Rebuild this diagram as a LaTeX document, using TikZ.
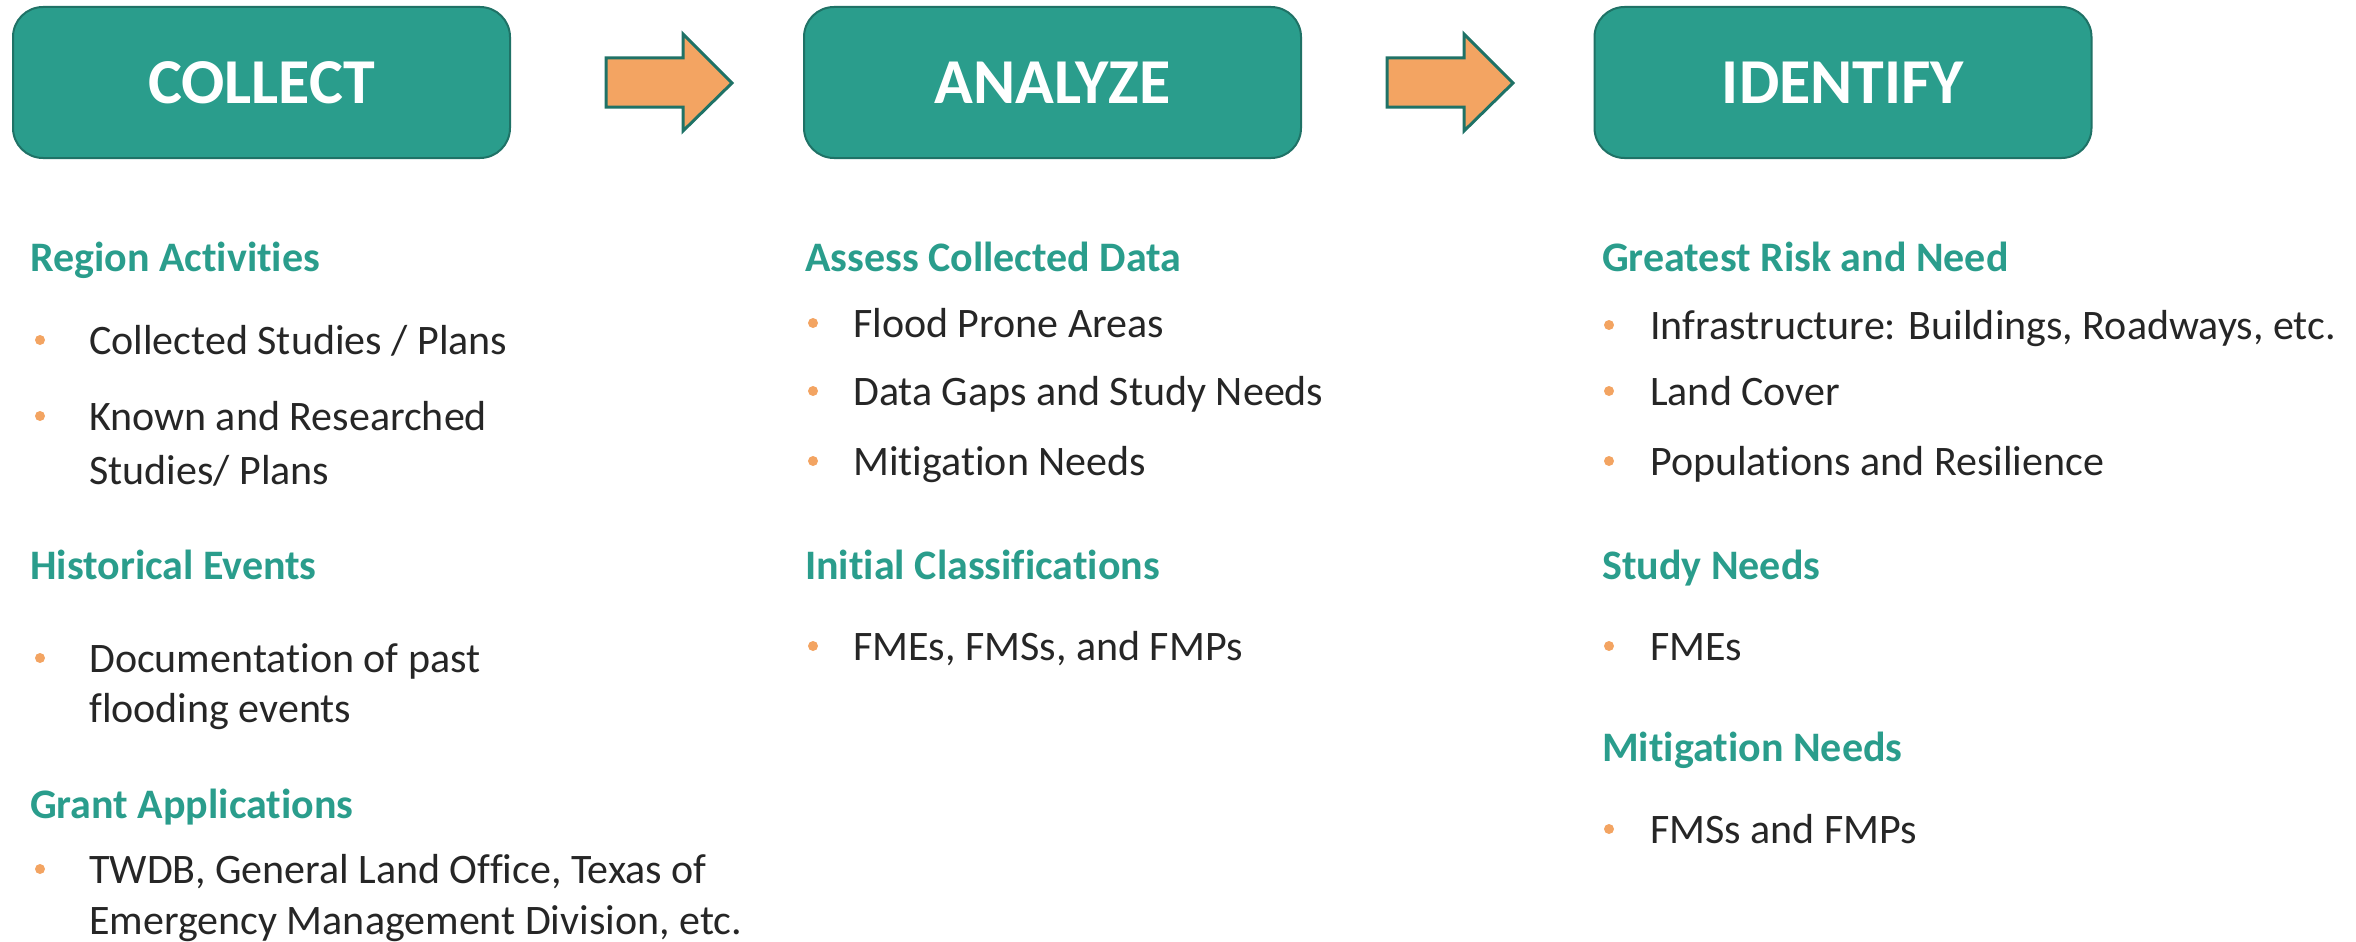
\documentclass[tikz,border=0pt]{standalone}
\usepackage{fontspec}
\setmainfont{Carlito}[Ligatures=NoCommon]
\definecolor{teal1}{HTML}{2A9D8C}
\definecolor{boxline}{HTML}{1F7266}
\definecolor{headc}{HTML}{2A9D8C}
\definecolor{orng}{HTML}{F3A462}
\definecolor{bodyc}{HTML}{262626}
\begin{document}
\begin{tikzpicture}[x=1pt,y=-1pt,
  hdr/.style={draw=boxline, line width=2pt, fill=teal1, rounded corners=30pt, minimum width=497pt, minimum height=151pt, text=white, font=\fontsize{64}{76}\selectfont\bfseries, inner sep=0pt},
  sect/.style={anchor=base west, text=headc, font=\fontsize{42}{50}\selectfont\bfseries, inner sep=0pt},
  item/.style={anchor=base west, text=bodyc, font=\fontsize{42}{50}\selectfont, inner sep=0pt},
  bul/.style={circle, fill=orng, inner sep=0pt, minimum size=10pt},
  blockarrow/.style={draw=boxline, line width=3pt, fill=orng, line join=miter}]
\useasboundingbox (0,0) rectangle (2356,942);

% header boxes
\node[hdr] (collect) at (261.5,82.5) {COLLECT};
\node[hdr] (analyze) at (1052.5,82.5) {ANALYZE};
\node[hdr] (identify) at (1843,82.5) {IDENTIFY};

% block arrows
\coordinate (a1) at (606,83);
\coordinate (a2) at (1387,83);
\foreach \c in {a1,a2}{
  \draw[blockarrow] (\c) ++(0,-25) -- ++(77,0) -- ++(0,-24) -- ++(49,49) -- ++(-49,48) -- ++(0,-24) -- ++(-77,0) -- cycle;
}

% left column
\node[sect] (ra) at (30,271) {Region Activities};
\node[bul] (lb1) at (40,340) {};
\node[item] (l1) at (89,354) {Collected Studies / Plans};
\node[bul] (lb2) at (40,416) {};
\node[item] (l2a) at (89,430) {Known and Researched};
\node[item] (l2b) at (89,484) {Studies/ Plans};
\node[sect] (he) at (30,579) {Historical Events};
\node[bul] (lb3) at (40,658) {};
\node[item] (l3a) at (89,672) {Documentation of past};
\node[item] (l3b) at (89,722) {flooding events};
\node[sect] (ga) at (30,818) {Grant Applications};
\node[bul] (lb4) at (40,869) {};
\node[item] (l4a) at (89,883) {TWDB, General Land Office, Texas of};
\node[item] (l4b) at (89,934) {Emergency Management Division, etc.};

% middle column
\node[sect] (acd) at (805,271) {Assess Collected Data};
\node[bul] (mb1) at (813,323) {};
\node[item] (m1) at (853,337) {Flood Prone Areas};
\node[bul] (mb2) at (813,391) {};
\node[item] (m2) at (853,405) {Data Gaps and Study Needs};
\node[bul] (mb3) at (813,461) {};
\node[item] (m3) at (853,475) {Mitigation Needs};
\node[sect] (ic) at (805,579) {Initial Classifications};
\node[bul] (mb4) at (813,646) {};
\node[item] (m4) at (853,660) {FMEs, FMSs, and FMPs};

% right column
\node[sect] (grn) at (1602,271) {Greatest Risk and Need};
\node[bul] (rb1) at (1609,325) {};
\node[item] (r1) at (1650,339) {Infrastructure: Buildings, Roadways, etc.};
\node[bul] (rb2) at (1609,391) {};
\node[item] (r2) at (1650,405) {Land Cover};
\node[bul] (rb3) at (1609,461) {};
\node[item] (r3) at (1650,475) {Populations and Resilience};
\node[sect] (sn) at (1602,579) {Study Needs};
\node[bul] (rb4) at (1609,646) {};
\node[item] (r4) at (1650,660) {FMEs};
\node[sect] (mn) at (1602,761) {Mitigation Needs};
\node[bul] (rb5) at (1609,829) {};
\node[item] (r5) at (1650,843) {FMSs and FMPs};
\end{tikzpicture}
\end{document}
